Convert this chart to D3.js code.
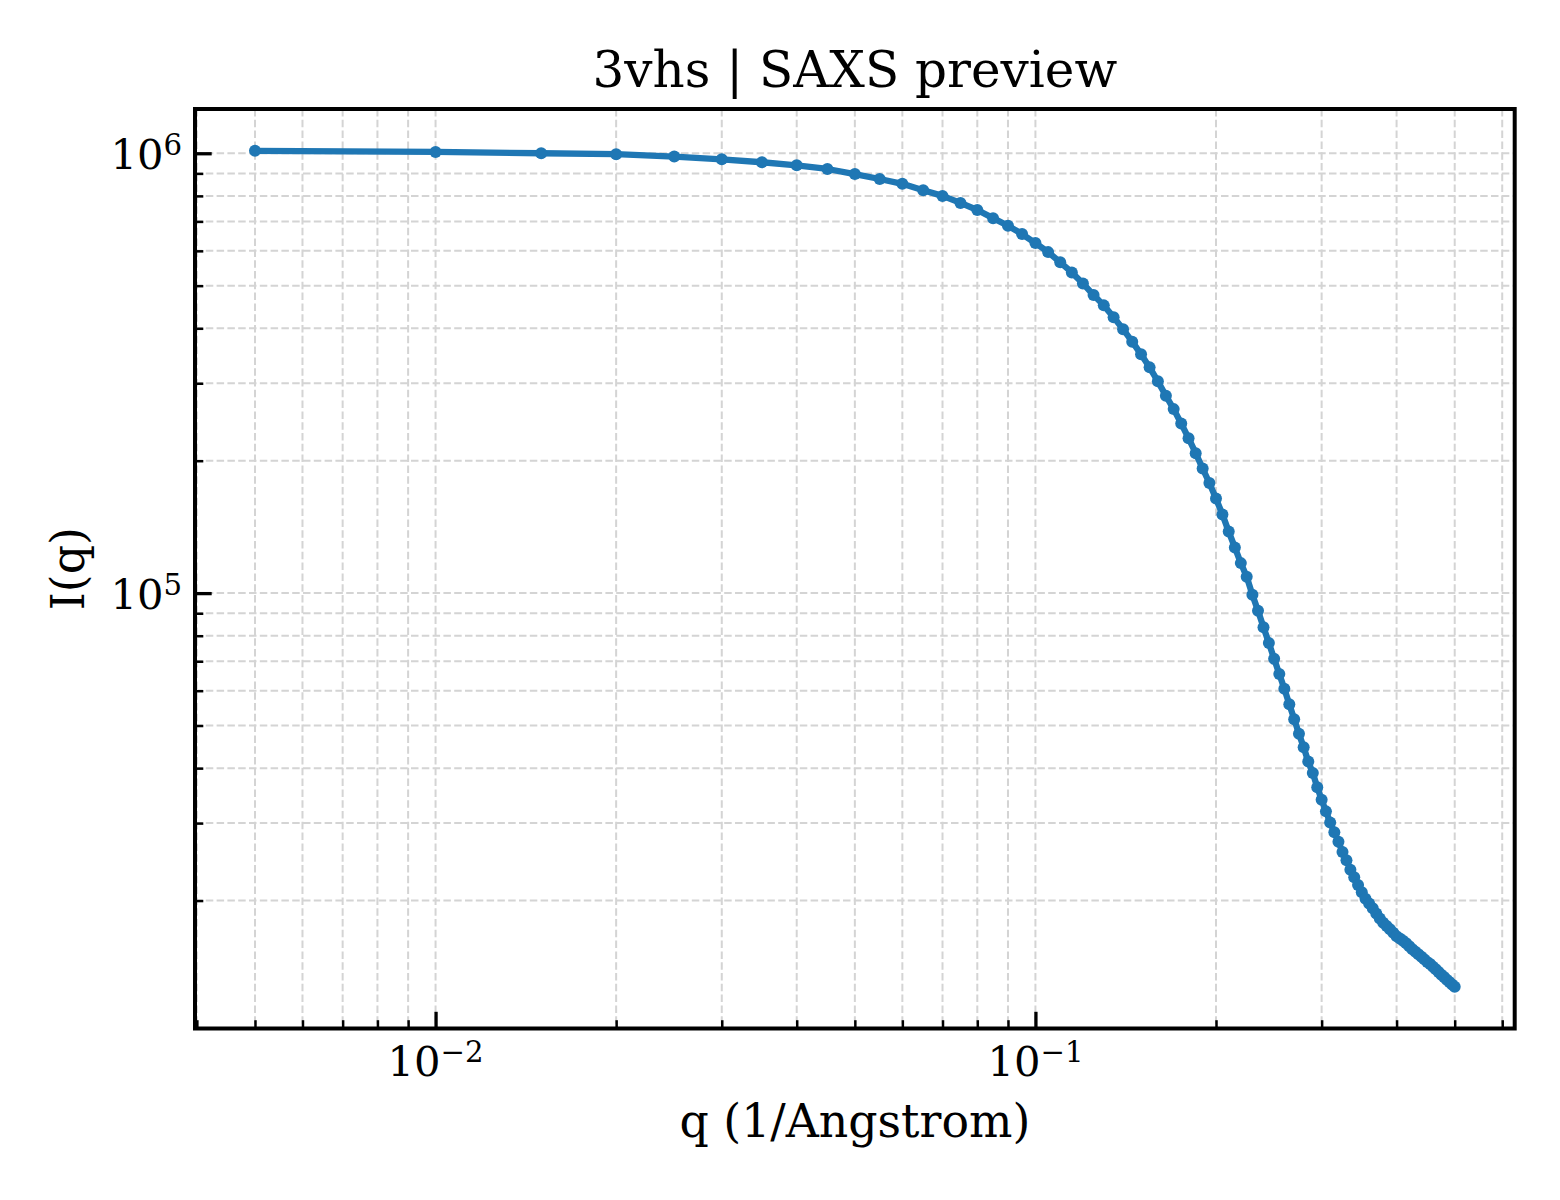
<!DOCTYPE html>
<html>
<head>
<meta charset="utf-8">
<script src="https://cdn.jsdelivr.net/npm/d3@7"></script>
<style>
  html, body { margin: 0; padding: 0; background: #fff; }
  svg { display: block; font-family: "DejaVu Serif", serif; }
</style>
</head>
<body>
<svg id="chart" width="1560" height="1200"></svg>
<script>
// ---- data ----
const qValues = [
  0.005, 0.010, 0.015, 0.020, 0.025, 0.030, 0.035, 0.040, 0.045, 0.050,
  0.055, 0.060, 0.065, 0.070, 0.075, 0.080, 0.085, 0.090, 0.095, 0.100,
  0.105, 0.110, 0.115, 0.120, 0.125, 0.130, 0.135, 0.140, 0.145, 0.150,
  0.155, 0.160, 0.165, 0.170, 0.175, 0.180, 0.185, 0.190, 0.195, 0.200,
  0.205, 0.210, 0.215, 0.220, 0.225, 0.230, 0.235, 0.240, 0.245, 0.250,
  0.255, 0.260, 0.265, 0.270, 0.275, 0.280, 0.285, 0.290, 0.295, 0.300,
  0.305, 0.310, 0.315, 0.320, 0.325, 0.330, 0.335, 0.340, 0.345, 0.350,
  0.355, 0.360, 0.365, 0.370, 0.375, 0.380, 0.385, 0.390, 0.395, 0.400,
  0.405, 0.410, 0.415, 0.420, 0.425, 0.430, 0.435, 0.440, 0.445, 0.450,
  0.455, 0.460, 0.465, 0.470, 0.475, 0.480, 0.485, 0.490, 0.495, 0.500
];
const intensityValues = [
  1.013e6, 1.007e6, 1.000e6, 9.95e5, 9.83e5, 9.69e5, 9.54e5, 9.39e5, 9.21e5, 8.97e5,
  8.74e5, 8.52e5, 8.24e5, 8.00e5, 7.71e5, 7.43e5, 7.12e5, 6.84e5, 6.55e5, 6.25e5,
  5.96e5, 5.65e5, 5.36e5, 5.06e5, 4.76e5, 4.51e5, 4.24e5, 3.98e5, 3.73e5, 3.49e5,
  3.26e5, 3.03e5, 2.81e5, 2.62e5, 2.43e5, 2.25e5, 2.08e5, 1.92e5, 1.78e5, 1.64e5,
  1.51e5, 1.38e5, 1.27e5, 1.17e5, 1.09e5, 9.91e4, 9.12e4, 8.36e4, 7.70e4, 7.09e4,
  6.55e4, 6.06e4, 5.59e4, 5.17e4, 4.79e4, 4.46e4, 4.14e4, 3.90e4, 3.62e4, 3.39e4,
  3.19e4, 3.01e4, 2.86e4, 2.72e4, 2.58e4, 2.47e4, 2.35e4, 2.26e4, 2.17e4, 2.09e4,
  2.02e4, 1.97e4, 1.92e4, 1.87e4, 1.82e4, 1.78e4, 1.75e4, 1.72e4, 1.69e4, 1.66e4,
  1.64e4, 1.62e4, 1.60e4, 1.575e4, 1.55e4, 1.53e4, 1.51e4, 1.49e4, 1.47e4, 1.45e4,
  1.434e4, 1.415e4, 1.396e4, 1.376e4, 1.357e4, 1.341e4, 1.322e4, 1.305e4, 1.288e4, 1.274e4
];
const xMajorTicks = [0.01, 0.1];
const xTickBase = ["10", "10"];
const xTickExp = ["\u22122", "\u22121"];
const yMajorTicks = [1e5, 1e6];
const yTickBase = ["10", "10"];
const yTickExp = ["5", "6"];
const titleText = "3vhs | SAXS preview";
const xLabelText = "q (1/Angstrom)";
const yLabelText = "I(q)";

// ---- layout ----
const L = 195, R = 1514.7, T = 109, B = 1028.5;
const svg = d3.select("#chart");

function logDomain(vals) {
  const lo = Math.log10(d3.min(vals)), hi = Math.log10(d3.max(vals));
  const m = (hi - lo) * 0.05;
  return [Math.pow(10, lo - m), Math.pow(10, hi + m)];
}
const x = d3.scaleLog().domain(logDomain(qValues)).range([L, R]);
const y = d3.scaleLog().domain(logDomain(intensityValues)).range([B, T]);

const xAll = x.ticks().filter(v => v >= x.domain()[0] && v <= x.domain()[1]);
const yAll = y.ticks().filter(v => v >= y.domain()[0] && v <= y.domain()[1]);
const isMajor = v => Math.abs(Math.log10(v) - Math.round(Math.log10(v))) < 1e-9;
const xMinor = xAll.filter(v => !isMajor(v));
const yMinor = yAll.filter(v => !isMajor(v));

// ---- grid ----
const grid = svg.append("g").attr("stroke", "#d4d4d4").attr("stroke-width", 2)
  .attr("stroke-dasharray", "7.5,3.3").attr("fill", "none");
grid.selectAll("line.gx").data(xAll).join("line").attr("class", "gx")
  .attr("x1", d => x(d)).attr("x2", d => x(d)).attr("y1", T).attr("y2", B);
grid.selectAll("line.gy").data(yAll).join("line").attr("class", "gy")
  .attr("y1", d => y(d)).attr("y2", d => y(d)).attr("x1", L).attr("x2", R);

// ---- data line + markers ----
const pts = qValues.map((q, i) => [q, intensityValues[i]]);
svg.append("clipPath").attr("id", "clip").append("rect")
  .attr("x", L).attr("y", T).attr("width", R - L).attr("height", B - T);
const plot = svg.append("g").attr("clip-path", "url(#clip)");
plot.append("path").datum(pts)
  .attr("d", d3.line().x(d => x(d[0])).y(d => y(d[1])))
  .attr("fill", "none").attr("stroke", "#1f77b4").attr("stroke-width", 6.3)
  .attr("stroke-linejoin", "round").attr("stroke-linecap", "butt");
plot.selectAll("circle").data(pts).join("circle")
  .attr("cx", d => x(d[0])).attr("cy", d => y(d[1])).attr("r", 6)
  .attr("fill", "#1f77b4");

// ---- axes ticks (inward) ----
function styleAxis(g, w) {
  g.select(".domain").remove();
  g.selectAll(".tick line").attr("stroke", "#000").attr("stroke-width", w);
  g.selectAll(".tick text").remove();
}
svg.append("g").attr("transform", `translate(0,${B})`)
  .call(d3.axisBottom(x).tickValues(xMinor).tickSize(-8.3).tickFormat(""))
  .call(g => styleAxis(g, 2.5));
svg.append("g").attr("transform", `translate(0,${B})`)
  .call(d3.axisBottom(x).tickValues(xMajorTicks).tickSize(-16.7).tickFormat(""))
  .call(g => styleAxis(g, 3.3));
svg.append("g").attr("transform", `translate(${L},0)`)
  .call(d3.axisLeft(y).tickValues(yMinor).tickSize(-8.3).tickFormat(""))
  .call(g => styleAxis(g, 2.5));
svg.append("g").attr("transform", `translate(${L},0)`)
  .call(d3.axisLeft(y).tickValues(yMajorTicks).tickSize(-16.7).tickFormat(""))
  .call(g => styleAxis(g, 3.3));

// ---- spines ----
svg.append("rect").attr("x", L).attr("y", T).attr("width", R - L).attr("height", B - T)
  .attr("fill", "none").attr("stroke", "#000").attr("stroke-width", 4);

// ---- tick labels ----
const tickFs = 41.7;
xMajorTicks.forEach((v, i) => {
  const t = svg.append("text").attr("x", x(v)).attr("y", 1076)
    .attr("text-anchor", "middle").attr("font-size", tickFs).attr("fill", "#000");
  t.append("tspan").text(xTickBase[i]);
  t.append("tspan").attr("font-size", tickFs * 0.7).attr("dy", -14).text(xTickExp[i]);
});
yMajorTicks.forEach((v, i) => {
  const t = svg.append("text").attr("x", 182).attr("y", y(v) + 16)
    .attr("text-anchor", "end").attr("font-size", tickFs).attr("fill", "#000");
  t.append("tspan").text(yTickBase[i]);
  t.append("tspan").attr("font-size", tickFs * 0.7).attr("dy", -14).text(yTickExp[i]);
});

// ---- labels ----
svg.append("text").attr("x", (L + R) / 2).attr("y", 87).attr("text-anchor", "middle")
  .attr("font-size", 50).attr("fill", "#000").text(titleText);
svg.append("text").attr("x", (L + R) / 2).attr("y", 1137).attr("text-anchor", "middle")
  .attr("font-size", 45.8).attr("fill", "#000").text(xLabelText);
svg.append("text").attr("transform", `translate(83.5,${(T + B) / 2}) rotate(-90)`)
  .attr("text-anchor", "middle").attr("font-size", 45.8).attr("fill", "#000").text(yLabelText);
</script>
</body>
</html>
